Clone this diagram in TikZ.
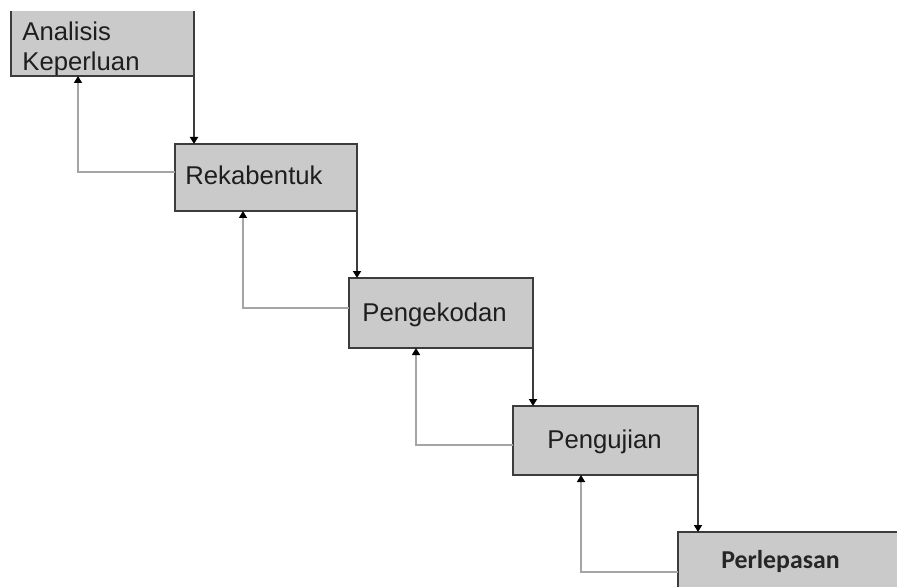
\documentclass[tikz,border=0pt]{standalone}
\usepackage{fontspec}
\setmainfont{Liberation Sans}
\newfontfamily\calfont{Carlito}
\usetikzlibrary{arrows.meta}
\definecolor{boxfill}{RGB}{202,202,202}
\definecolor{boxline}{RGB}{60,60,60}
\definecolor{fwdline}{RGB}{60,60,60}
\definecolor{backline}{RGB}{165,165,165}
\definecolor{txt}{RGB}{30,30,30}
\tikzset{
  box/.style={rectangle, fill=boxfill, draw=boxline, line width=1pt, inner sep=0pt, outer sep=0pt},
  lbl/.style={anchor=base west, inner sep=0pt, text=txt, font=\fontsize{12.85}{15}\selectfont},
  fwd/.style={draw=fwdline, line width=1pt, -{Triangle[width=4pt,length=3.5pt,fill=black,color=black]}},
  back/.style={draw=backline, line width=0.7pt, -{Triangle[width=4pt,length=3.5pt,fill=black,color=black]}}
}
\begin{document}
\begin{tikzpicture}[x=0.5pt,y=-0.5pt]
\useasboundingbox (0,0) rectangle (897,587);
\clip (0,0) rectangle (897,587);
% boxes
\node[box, draw=none, minimum width=91.5pt, minimum height=32.5pt] (b1) at (102.5,43.5) {};
\draw[boxline, line width=1pt] (b1.north west) -- (b1.south west) -- (b1.south east) -- (b1.north east);
\node[box, minimum width=91pt, minimum height=33.5pt] (b2) at (266,177.5) {};
\node[box, minimum width=92pt, minimum height=35pt] (b3) at (441,313) {};
\node[box, minimum width=92.5pt, minimum height=34.5pt] (b4) at (605.5,440.5) {};
\node[box, minimum width=126pt, minimum height=44pt] (b5) at (804,576) {};
% texts
\node[lbl, align=left] (t1) at (22,71) {Analisis\\Keperluan};
\node[lbl] (t2) at (185,185) {Rekabentuk};
\node[lbl] (t3) at (362,321) {Pengekodan};
\node[lbl] (t4) at (547,448) {Pengujian};
\node[lbl, font=\calfont\bfseries\fontsize{12.9}{15}\selectfont, text={rgb,255:red,38;green,38;blue,38}] (t5) at (721,568) {Perlepasan};
% forward arrows
\draw[fwd] (b1.south east) -- (b1.south east |- b2.north);
\draw[fwd] (b2.south east) -- (b2.south east |- b3.north);
\draw[fwd] (b3.south east) -- (b3.south east |- b4.north);
\draw[fwd] (b4.south east) -- (b4.south east |- b5.north);
% feedback arrows
\coordinate (k1) at (78,172);
\coordinate (k2) at (243,308);
\coordinate (k3) at (416,445);
\coordinate (k4) at (581,572);
\draw[back] (b2.west |- k1) -- (k1) -- (k1 |- b1.south);
\draw[back] (b3.west |- k2) -- (k2) -- (k2 |- b2.south);
\draw[back] (b4.west |- k3) -- (k3) -- (k3 |- b3.south);
\draw[back] (b5.west |- k4) -- (k4) -- (k4 |- b4.south);
\end{tikzpicture}
\end{document}
